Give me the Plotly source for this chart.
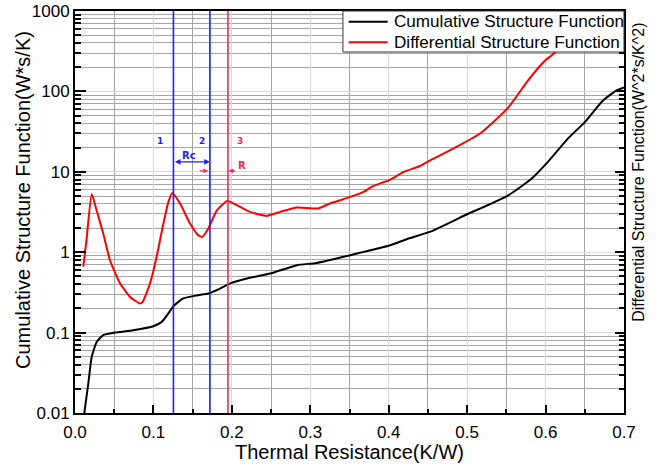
import math
import plotly.graph_objects as go

# ---------------- data ----------------
x_cum = [0.0113, 0.0119, 0.017, 0.0213, 0.0277, 0.036, 0.051, 0.074, 0.0999, 0.1106,
         0.119, 0.1254, 0.138, 0.155, 0.170, 0.185, 0.198, 0.223, 0.249, 0.283,
         0.308, 0.351, 0.368, 0.402, 0.423, 0.453, 0.496, 0.552, 0.582, 0.603,
         0.629, 0.651, 0.672, 0.689, 0.70]
y_cum = [0.0085, 0.01, 0.0233, 0.05, 0.0766, 0.093, 0.1, 0.107, 0.12, 0.136,
         0.173, 0.213, 0.266, 0.29, 0.306, 0.353, 0.41, 0.48, 0.543, 0.69,
         0.736, 0.918, 1.01, 1.22, 1.45, 1.8, 2.84, 5.07, 8.2, 13.3,
         26.2, 42.4, 75, 101, 112]

x_diff = [0.0106, 0.015, 0.0213, 0.028, 0.036, 0.0446, 0.0574, 0.0702, 0.083, 0.0863,
          0.0957, 0.104, 0.1127, 0.119, 0.124, 0.134, 0.1467, 0.157, 0.1624, 0.170,
          0.181, 0.194, 0.198, 0.2105, 0.223, 0.2445, 0.2615, 0.283, 0.310, 0.325,
          0.351, 0.368, 0.380, 0.402, 0.419, 0.44, 0.453, 0.483, 0.517, 0.552,
          0.577, 0.599, 0.612, 0.63, 0.645]
y_diff = [0.66, 1.52, 5.3, 3.2, 1.71, 0.795, 0.41, 0.278, 0.23, 0.241,
          0.41, 0.87, 2.27, 4.2, 5.45, 4.03, 2.27, 1.63, 1.55, 1.97,
          3.33, 4.35, 4.23, 3.66, 3.17, 2.83, 3.17, 3.6, 3.5, 4.03,
          4.87, 5.63, 6.62, 8.0, 9.96, 11.8, 13.9, 19.6, 30.2, 62.4,
          134, 240, 305, 550, 1000]

series_names = ["Cumulative Structure Function", "Differential Structure Function"]
marker_x = [0.1255, 0.172, 0.195]           # vertical reference lines
marker_labels = ["1", "2", "3"]
y_ticks = [0.01, 0.1, 1, 10, 100, 1000]
y_ticktext = ["0.01", "0.1", "1", "10", "100", "1000"]
x_ticks = [0.0, 0.1, 0.2, 0.3, 0.4, 0.5, 0.6, 0.7]
x_ticktext = ["0.0", "0.1", "0.2", "0.3", "0.4", "0.5", "0.6", "0.7"]

BLUE = "rgb(30,30,255)"
PINK = "rgb(238,45,90)"
RED = "rgb(255,0,0)"
FONT = "Arial, Liberation Sans, sans-serif"
MAJ_GRID = "#d9d9d9"
MIN_GRID = "#a6a6a6"

minor_y = [k * 10 ** d for d in range(-2, 3) for k in range(2, 10)]

fig = go.Figure()
fig.add_trace(go.Scatter(x=x_cum, y=y_cum, mode="lines", name=series_names[0],
                         showlegend=False,
                         line=dict(color="black", width=2, shape="spline", smoothing=0.5)))
fig.add_trace(go.Scatter(x=x_diff, y=y_diff, mode="lines", name=series_names[1],
                         yaxis="y2", showlegend=False,
                         line=dict(color=RED, width=2, shape="spline", smoothing=0.5)))

shapes = []
for i, xv in enumerate(marker_x):
    shapes.append(dict(type="line", xref="x", yref="paper", x0=xv, x1=xv, y0=0, y1=1,
                       line=dict(color=BLUE if i < 2 else PINK, width=1.6), layer="above"))

# legend box (drawn manually to match the compact row spacing)
LEG_X0, LEG_X1, LEG_Y0, LEG_Y1 = 0.488, 1.0, 0.898, 1.0
shapes.append(dict(type="rect", xref="paper", yref="paper", x0=LEG_X0, x1=LEG_X1,
                   y0=LEG_Y0, y1=LEG_Y1, fillcolor="white",
                   line=dict(color="#333333", width=1), layer="above"))
leg_rows = [0.9735, 0.922]
for yy, col in zip(leg_rows, ["black", RED]):
    shapes.append(dict(type="line", xref="paper", yref="paper", x0=0.4985, x1=0.5695,
                       y0=yy, y1=yy, line=dict(color=col, width=2), layer="above"))

ann = []
for yy, name in zip(leg_rows, series_names):
    ann.append(dict(x=0.578, y=yy, xref="paper", yref="paper", text=name, showarrow=False,
                    xanchor="left", yanchor="middle",
                    font=dict(family=FONT, size=17.1, color="black")))

lab_y = 24.2
for i, (xv, t) in enumerate(zip([0.1087, 0.1615, 0.2105], marker_labels)):
    ann.append(dict(x=xv, y=math.log10(lab_y), xref="x", yref="y", text="<b>%s</b>" % t,
                    showarrow=False, font=dict(family="DejaVu Sans", size=9,
                                               color=BLUE if i < 2 else PINK)))
ann.append(dict(x=0.1458, y=math.log10(15.9), xref="x", yref="y", text="<b>Rc</b>",
                showarrow=False, font=dict(family="DejaVu Sans", size=10, color=BLUE)))
ann.append(dict(x=0.2135, y=math.log10(12.1), xref="x", yref="y", text="<b>R</b>",
                showarrow=False, font=dict(family="DejaVu Sans", size=10, color=PINK)))
# double arrow Rc
ann.append(dict(x=marker_x[1], y=math.log10(13.3), ax=marker_x[0], ay=math.log10(13.3),
                xref="x", yref="y", axref="x", ayref="y", text="", showarrow=True,
                arrowhead=2, arrowsize=0.8, arrowwidth=1.4, arrowside="end+start",
                arrowcolor=BLUE, standoff=0, startstandoff=0))
# red arrows
ann.append(dict(x=0.170, y=math.log10(10.25), ax=0.157, ay=math.log10(10.25),
                xref="x", yref="y", axref="x", ayref="y", text="", showarrow=True,
                arrowhead=2, arrowsize=0.8, arrowwidth=1.2, arrowcolor=PINK, standoff=0))
ann.append(dict(x=0.1955, y=math.log10(10.25), ax=0.206, ay=math.log10(10.25),
                xref="x", yref="y", axref="x", ayref="y", text="", showarrow=True,
                arrowhead=2, arrowsize=0.8, arrowwidth=1.2, arrowcolor=PINK, standoff=0))
# axis titles
ann.append(dict(x=-0.0947, y=0.53, xref="paper", yref="paper", textangle=-90,
                xanchor="center", yanchor="middle",
                text="Cumulative Structure Function(W*s/K)", showarrow=False,
                font=dict(family=FONT, size=20, color="black")))
ann.append(dict(x=1.0273, y=0.60, xref="paper", yref="paper", textangle=-90,
                xanchor="center", yanchor="middle",
                text="Differential Structure Function(W^2*s/K^2)", showarrow=False,
                font=dict(family=FONT, size=16, color="black")))
ann.append(dict(x=0.5, y=-0.097, xref="paper", yref="paper",
                xanchor="center", yanchor="middle",
                text="Thermal Resistance(K/W)", showarrow=False,
                font=dict(family=FONT, size=20, color="black")))

fig.update_layout(
    width=669, height=468,
    margin=dict(l=75, r=45, t=11, b=55, pad=0, autoexpand=False),
    paper_bgcolor="white", plot_bgcolor="white",
    font=dict(family=FONT, size=17, color="black"),
    showlegend=False,
    shapes=shapes,
    annotations=ann,
    xaxis=dict(range=[0, 0.7], tickmode="array", tickvals=x_ticks, ticktext=x_ticktext,
               automargin=False, ticklabelstandoff=3,
               ticks="inside", ticklen=8, tickwidth=2, tickcolor="black",
               showline=True, linewidth=2, linecolor="black", mirror=True,
               showgrid=True, gridcolor=MAJ_GRID, gridwidth=1, zeroline=False,
               minor=dict(dtick=0.05, ticks="inside", ticklen=4, tickwidth=1.5,
                          tickcolor="black", showgrid=True, gridcolor=MIN_GRID)),
    yaxis=dict(type="log", range=[-2, 3], tickmode="array", tickvals=y_ticks,
               automargin=False,
               ticktext=y_ticktext, ticks="inside", ticklen=11, tickwidth=2,
               tickcolor="black", showline=True, linewidth=2, linecolor="black",
               showgrid=True, gridcolor=MAJ_GRID, zeroline=False,
               minor=dict(tickmode="array", tickvals=minor_y, ticks="inside", ticklen=6,
                          tickwidth=1.5, tickcolor="black", showgrid=True,
                          gridcolor=MIN_GRID)),
    yaxis2=dict(type="log", range=[-2, 3], overlaying="y", side="right",
                automargin=False,
                tickmode="array", tickvals=y_ticks, showticklabels=False,
                ticks="inside", ticklen=9, tickwidth=2, tickcolor="black",
                showline=True, linewidth=2, linecolor="black", showgrid=False,
                zeroline=False,
                minor=dict(tickmode="array", tickvals=minor_y, ticks="inside",
                           ticklen=5, tickwidth=1.5, tickcolor="black", showgrid=False)),
)

fig.write_html("out.html", config={"displayModeBar": False},
               post_script="document.body.style.margin='0px';"
                           "document.body.style.overflow='hidden';")
